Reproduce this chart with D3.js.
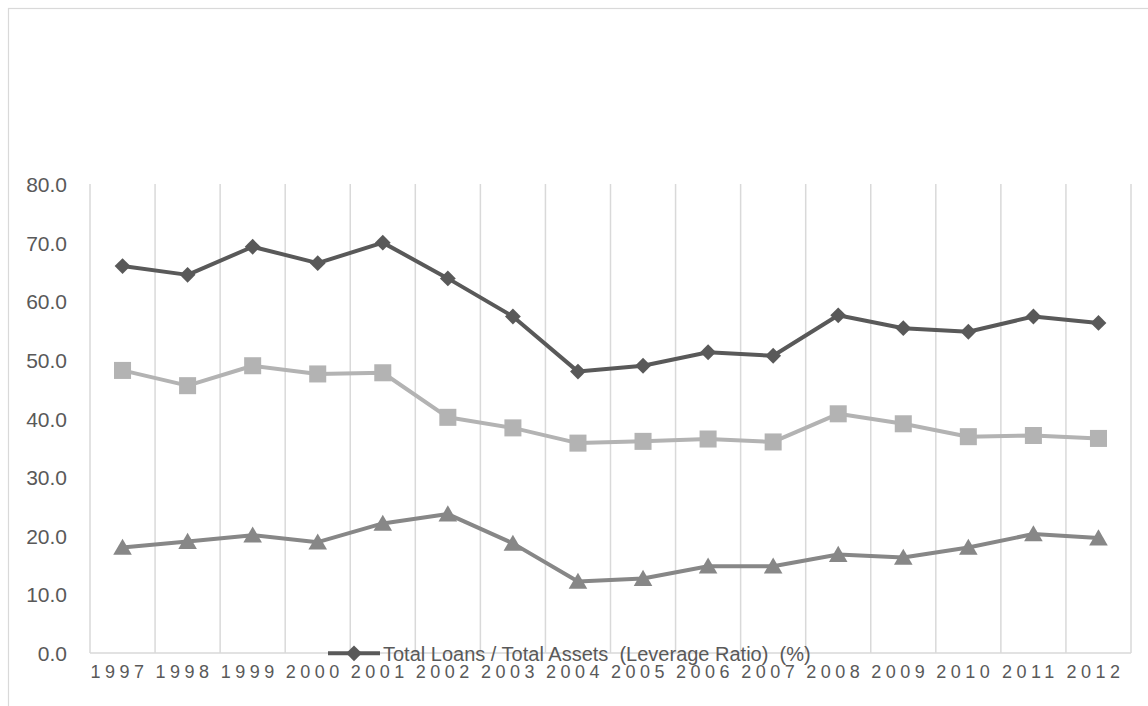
<!DOCTYPE html>
<html>
<head>
<meta charset="utf-8">
<script src="https://cdn.jsdelivr.net/npm/d3@7"></script>
<style>
  body { margin: 0; background: #fff; }
  svg { display: block; font-family: "Liberation Sans", Arial, sans-serif; }
  .y-axis text { font-size: 21px; fill: #595959; }
  .x-axis text { font-size: 18px; fill: #595959; letter-spacing: 4.5px; }
  .legend-label { font-size: 20px; fill: #595959; white-space: pre; }
</style>
</head>
<body>
<div id="wrapper"></div>
<script>
// chart data
const years = ["1997", "1998", "1999", "2000", "2001", "2002", "2003", "2004",
  "2005", "2006", "2007", "2008", "2009", "2010", "2011", "2012"]
const leverageRatio = [66.0, 64.5, 69.3, 66.5, 70.0, 63.9, 57.4, 48.0,
  49.0, 51.3, 50.7, 57.6, 55.4, 54.8, 57.4, 56.3]
const seriesTwo = [48.2, 45.6, 49.0, 47.6, 47.8, 40.2, 38.4, 35.8,
  36.1, 36.5, 36.0, 40.8, 39.1, 36.9, 37.1, 36.6]
const seriesThree = [18.0, 19.0, 20.1, 18.9, 22.1, 23.7, 18.7, 12.2,
  12.7, 14.8, 14.8, 16.8, 16.3, 18.0, 20.3, 19.6]
const yTicks = [0, 10, 20, 30, 40, 50, 60, 70, 80]
const legendText = "Total Loans / Total Assets  (Leverage Ratio)  (%)"

function drawChart() {
  const dimensions = {
    width: 1148,
    height: 706,
    margin: { top: 184, right: 17, bottom: 53, left: 90 },
  }
  dimensions.boundedWidth = dimensions.width - dimensions.margin.left - dimensions.margin.right
  dimensions.boundedHeight = dimensions.height - dimensions.margin.top - dimensions.margin.bottom

  const wrapper = d3.select("#wrapper")
    .append("svg")
      .attr("width", dimensions.width)
      .attr("height", dimensions.height)

  // outer frame (runs off the right / bottom edge)
  wrapper.append("rect")
      .attr("x", 8.5)
      .attr("y", 8.5)
      .attr("width", dimensions.width + 20)
      .attr("height", dimensions.height + 20)
      .attr("fill", "none")
      .attr("stroke", "#d9d9d9")
      .attr("stroke-width", 1.2)

  const bounds = wrapper.append("g")
      .attr("transform", `translate(${dimensions.margin.left}, ${dimensions.margin.top})`)

  // scales
  const xScale = d3.scaleBand()
    .domain(years)
    .range([0, dimensions.boundedWidth])
    .padding(0)

  const yScale = d3.scaleLinear()
    .domain([0, 80])
    .range([dimensions.boundedHeight, 0])

  const xCenter = d => xScale(d) + xScale.bandwidth() / 2

  // vertical gridlines at band edges
  const edges = years.map(d => xScale(d)).concat([dimensions.boundedWidth])
  bounds.append("g")
    .selectAll("line")
    .data(edges)
    .join("line")
      .attr("x1", d => d)
      .attr("x2", d => d)
      .attr("y1", 0)
      .attr("y2", dimensions.boundedHeight)
      .attr("stroke", "#d9d9d9")
      .attr("stroke-width", 1.5)

  // axis line
  bounds.append("line")
      .attr("x1", 0)
      .attr("x2", dimensions.boundedWidth)
      .attr("y1", dimensions.boundedHeight)
      .attr("y2", dimensions.boundedHeight)
      .attr("stroke", "#d9d9d9")
      .attr("stroke-width", 1.5)

  // axes
  const yAxisGenerator = d3.axisLeft(yScale)
    .tickValues(yTicks)
    .tickFormat(d3.format(".1f"))
    .tickSize(0)
    .tickPadding(23)

  const yAxis = bounds.append("g")
      .attr("class", "y-axis")
      .call(yAxisGenerator)
  yAxis.select(".domain").remove()
  yAxis.selectAll("text").attr("dy", "0.36em")

  const xAxisGenerator = d3.axisBottom(xScale)
    .tickSize(0)
    .tickPadding(12.5)

  const xAxis = bounds.append("g")
      .attr("class", "x-axis")
      .attr("transform", `translate(0, ${dimensions.boundedHeight})`)
      .call(xAxisGenerator)
  xAxis.select(".domain").remove()
  xAxis.selectAll("text").attr("dx", -3)

  // series: diamond = square turned 45 degrees
  const series = [
    { values: seriesThree, color: "#878787", shape: d3.symbolTriangle, size: 150, rotate: 0, dy: 2 },
    { values: seriesTwo, color: "#b3b3b3", shape: d3.symbolSquare, size: 290, rotate: 0, dy: 0 },
    { values: leverageRatio, color: "#595959", shape: d3.symbolSquare, size: 125, rotate: 45, dy: 0 },
  ]

  const lineGenerator = d3.line()
    .x((d, i) => xCenter(years[i]))
    .y(d => yScale(d))

  series.forEach(s => {
    const g = bounds.append("g")
    g.append("path")
      .attr("d", lineGenerator(s.values))
      .attr("fill", "none")
      .attr("stroke", s.color)
      .attr("stroke-width", 4)
      .attr("stroke-linejoin", "round")

    const symbol = d3.symbol().type(s.shape).size(s.size)
    g.selectAll("path.marker")
      .data(s.values)
      .join("path")
        .attr("class", "marker")
        .attr("d", symbol)
        .attr("transform", (d, i) =>
          `translate(${xCenter(years[i])}, ${yScale(d) + s.dy}) rotate(${s.rotate})`)
        .attr("fill", s.color)
  })

  // legend (only the first series is shown)
  const legendGroup = wrapper.append("g")
      .attr("transform", `translate(328, 653.3)`)
  legendGroup.append("line")
      .attr("x1", 0)
      .attr("x2", 52)
      .attr("stroke", "#595959")
      .attr("stroke-width", 4)
  legendGroup.append("path")
      .attr("d", d3.symbol().type(d3.symbolSquare).size(125))
      .attr("transform", "translate(26, 0) rotate(45)")
      .attr("fill", "#595959")
  legendGroup.append("text")
      .attr("class", "legend-label")
      .attr("x", 55)
      .attr("y", 7.2)
      .text(legendText)
}
drawChart()
</script>
</body>
</html>
